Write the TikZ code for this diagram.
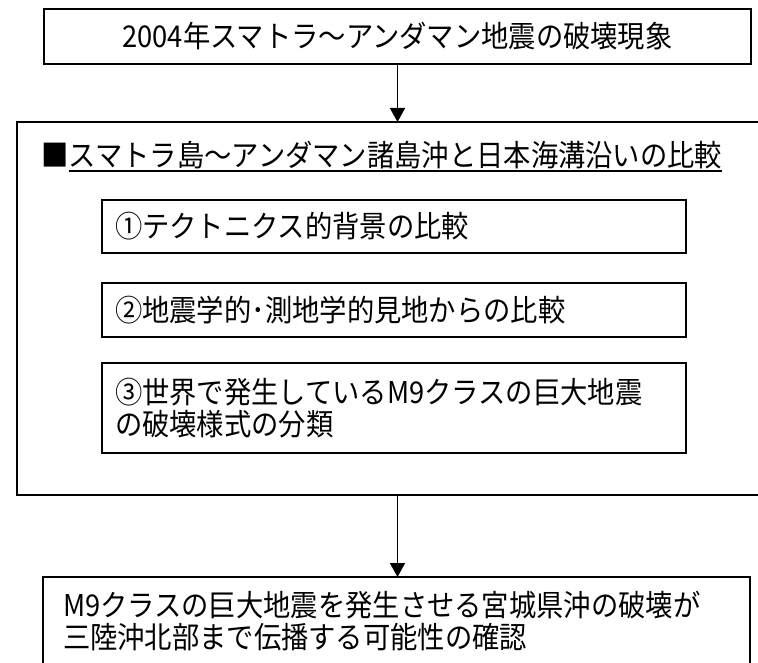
\documentclass[tikz,border=0pt]{standalone}
\usepackage{fontspec}
\setmainfont{Noto Sans CJK JP}[FakeStretch=0.91]
\usetikzlibrary{arrows.meta}
\begin{document}
\begin{tikzpicture}[x=1pt,y=-1pt,
  box/.style={draw, line width=2pt, rectangle, anchor=north west, outer sep=0pt, inner ysep=0pt},
  txt/.style={font=\fontsize{30}{32}\selectfont},
  arr/.style={line width=1.6pt, -{Triangle[length=14pt,width=15pt]}}]
\fill[white] (0,0) rectangle (758,663);
\useasboundingbox (0,0) rectangle (758,663);
\clip (0,0) rectangle (758,663);
% top box
\node[box, txt, minimum width=707pt, minimum height=55pt] (top) at (44,9) {2004年スマトラ～アンダマン地震の破壊現象};
% big box
\node[box, minimum width=760pt, minimum height=373pt] (big) at (17,122) {};
\node[txt, anchor=west, inner sep=0pt] (sq) at (41,155) {■};
\node[txt, anchor=base west, inner sep=0pt] (head) at (sq.base east) {スマトラ島～アンダマン諸島沖と日本海溝沿いの比較};
\draw[line width=2pt] ([yshift=-5pt]head.base west) -- ([yshift=-5pt]head.base east);
% inner boxes
\node[box, txt, text width=558pt, inner xsep=13pt, align=left, minimum height=53pt] (b1) at (102,200) {①テクトニクス的背景の比較};
\node[box, txt, text width=558pt, inner xsep=13pt, align=left, minimum height=54pt] (b2) at (102,283) {②地震学的･測地学的見地からの比較};
\node[box, txt, text width=558pt, inner xsep=13pt, align=left, minimum height=90pt] (b3) at (102,363) {③世界で発生しているM9クラスの巨大地震\\の破壊様式の分類};
% bottom box
\node[box, txt, text width=667pt, inner xsep=20pt, align=left, minimum height=88pt] (bot) at (43,577) {M9クラスの巨大地震を発生させる宮城県沖の破壊が\\三陸沖北部まで伝播する可能性の確認};
% arrows
\draw[arr] (top.south) -- (top.south |- big.north);
\draw[arr] (top.south |- big.south) -- (top.south |- bot.north);
\end{tikzpicture}
\end{document}
